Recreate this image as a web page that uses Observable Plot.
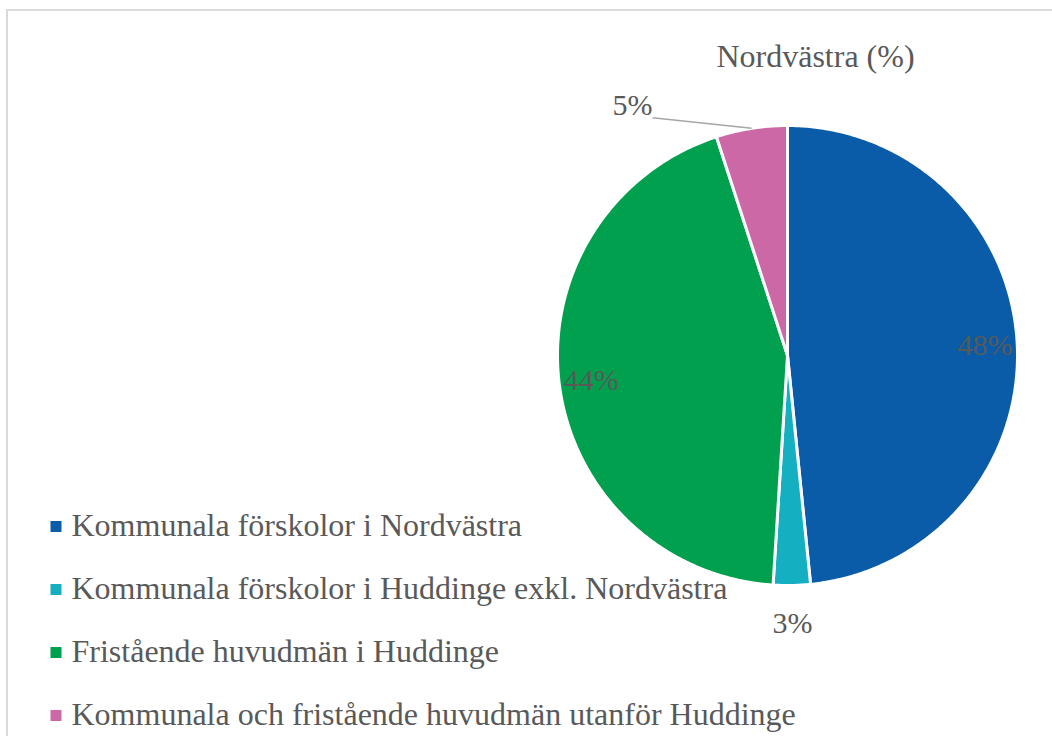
<!DOCTYPE html>
<html><head><meta charset="utf-8">
<script src="https://cdn.jsdelivr.net/npm/d3@7"></script>
<script src="https://cdn.jsdelivr.net/npm/@observablehq/plot@0.6"></script>
<style>
body{margin:0;background:#fff;overflow:hidden;}
#wrap{position:relative;width:1052px;height:736px;}
#border{position:absolute;left:6px;top:9px;width:1100px;height:800px;border:2px solid #d9d9d9;box-sizing:border-box;pointer-events:none;}
#chart{position:absolute;left:0;top:0;}
#chart svg, #chart svg text{font-family:"Liberation Serif", "Times New Roman", serif !important;}
</style></head><body>
<div id="wrap"><div id="chart"></div><div id="border"></div></div>
<script>
// ---- data ----
const title = "Nordvästra (%)";
const categories = [
  "Kommunala förskolor i Nordvästra",
  "Kommunala förskolor i Huddinge exkl. Nordvästra",
  "Fristående huvudmän i Huddinge",
  "Kommunala och fristående huvudmän utanför Huddinge"
];
const values = [48.4, 2.6, 44.0, 5.0];
const labels = ["48%", "3%", "44%", "5%"];
const colors = ["#0B5CA8", "#14AFC1", "#00A04F", "#CC68A6"];

// ---- layout ----
const CX = 787, CY = 355, R = 230;
const labelRadius = [0.86, 1.165, 0.86, 1.165];
const labelNudge = [[0, 0], [0, 0], [0, 0], [-113, 15]];
const leader = [false, false, false, true];
const textColor = "#595959";
const font = "Liberation Serif";

// ---- geometry from data ----
const total = d3.sum(values);
let acc = 0;
const slices = categories.map((c, i) => {
  const a0 = acc / total * 2 * Math.PI; acc += values[i];
  const a1 = acc / total * 2 * Math.PI;
  return {c, i, a0, a1, mid: (a0 + a1) / 2};
});
const pts = [];
for (const s of slices) {
  pts.push({c: s.c, x: 0, y: 0});
  const n = Math.max(2, Math.ceil((s.a1 - s.a0) / (Math.PI / 360)));
  for (let k = 0; k <= n; k++) {
    const a = s.a0 + (s.a1 - s.a0) * k / n;
    pts.push({c: s.c, x: Math.sin(a), y: Math.cos(a)});
  }
  pts.push({c: s.c, x: 0, y: 0});
}

const labelMarks = slices.map(s => {
  const r = labelRadius[s.i];
  const [nx, ny] = labelNudge[s.i];
  return Plot.text([{x: r * Math.sin(s.mid), y: r * Math.cos(s.mid), t: labels[s.i]}], {
    x: "x", y: "y", text: "t", dx: nx, dy: ny, fontSize: 30, fontFamily: font, fill: textColor, lineAnchor: "middle"
  });
});
const leaderMarks = slices.filter(s => leader[s.i]).map(s => {
  const r = labelRadius[s.i];
  const [nx, ny] = labelNudge[s.i];
  const lx = r * Math.sin(s.mid) + (nx + 20) / R;
  const ly = r * Math.cos(s.mid) - (ny + 12) / R;
  return Plot.link([{x1: lx, y1: ly, x2: Math.sin(s.mid), y2: Math.cos(s.mid)}], {
    x1: "x1", y1: "y1", x2: "x2", y2: "y2", stroke: "#a6a6a6", strokeWidth: 1.5
  });
});
const legendMarks = categories.flatMap((c, i) => [
  Plot.dot([c], {frameAnchor: "top-left", dx: 55.5, dy: 526 + i * 63, symbol: "square", r: 6.2, fill: colors[i], stroke: null}),
  Plot.text([c], {frameAnchor: "top-left", dx: 71, dy: 525 + i * 63, text: d => d, textAnchor: "start", lineAnchor: "middle", fontSize: 32, fontFamily: font, fill: textColor})
]);

const chart = Plot.plot({
  width: 1052, height: 736, margin: 0,
  x: {domain: [-1, 1], range: [CX - R, CX + R], axis: null},
  y: {domain: [-1, 1], range: [CY + R, CY - R], axis: null},
  color: {domain: categories, range: colors},
  style: {fontFamily: font, color: textColor, background: "transparent", overflow: "visible"},
  marks: [
    Plot.line(pts, {x: "x", y: "y", z: "c", fill: "c", stroke: "white", strokeWidth: 3, strokeLinejoin: "round"}),
    ...leaderMarks,
    ...labelMarks,
    Plot.text([title], {frameAnchor: "top-left", dx: 815, dy: 56, text: d => d, textAnchor: "middle", lineAnchor: "middle", fontSize: 32, fontFamily: font, fill: textColor}),
    ...legendMarks
  ]
});
document.getElementById("chart").appendChild(chart);
</script>
</body></html>
